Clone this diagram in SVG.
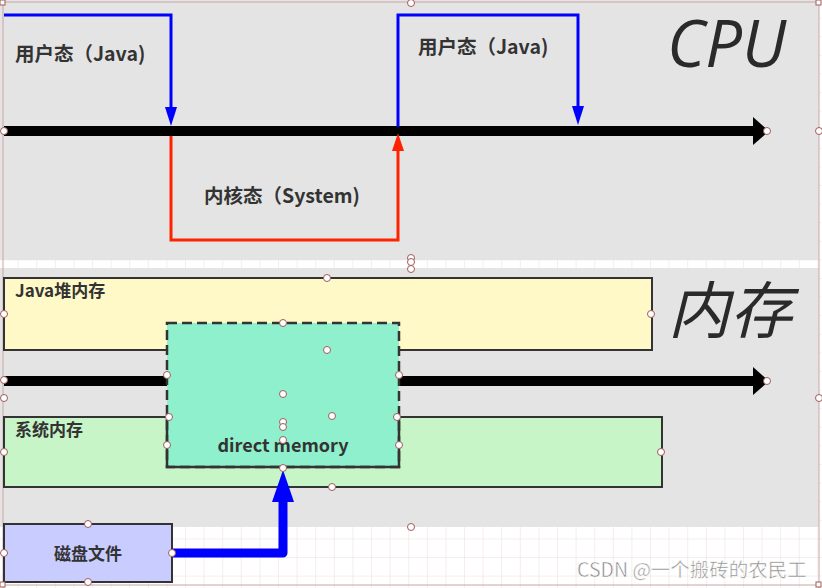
<svg xmlns="http://www.w3.org/2000/svg" width="822" height="588" viewBox="0 0 822 588">
<defs>
<pattern id="grid" x="0" y="0" width="18.6" height="18.6" patternUnits="userSpaceOnUse">
<rect width="18.6" height="18.6" fill="#ffffff"/>
<path d="M18.6 0V18.6M0 18.6H18.6" stroke="#eedcdc" stroke-width="1" fill="none"/>
</pattern>
<marker id="bigArrow" markerUnits="userSpaceOnUse" markerWidth="16" markerHeight="30" refX="0" refY="15" orient="auto">
<path d="M0 1L16 15L0 29Z" fill="#000"/>
</marker>
</defs>
<style>
.lbl{font-family:"Noto Sans CJK SC","Liberation Sans",sans-serif;font-weight:bold;fill:#333;}
.big{font-family:"Open Sans","Noto Sans CJK SC",sans-serif;font-style:italic;fill:#2a2a2a;}
.box{stroke:#333;stroke-width:2;}
.h{fill:#fff;stroke:#a05a5a;stroke-width:1;}
.thin{fill:none;stroke-width:3;stroke-linejoin:miter;}
</style>
<rect x="0" y="0" width="822" height="588" fill="url(#grid)"/>
<rect x="0" y="0" width="819" height="260" fill="#e4e4e4"/>
<rect x="0" y="268" width="819" height="259" fill="#e4e4e4"/>
<path d="M0 2H819M3 0V588M819 0V588M0 585H819" stroke="#caa4a4" stroke-width="1" fill="none"/>
<g id="cpu-title"><text class="big" x="667" y="67" font-size="65">CPU</text></g>
<g id="mem-title"><text class="big" x="668" y="333" font-size="62">内存</text></g>
<g id="java-heap"><rect class="box" x="4" y="278" width="648" height="72" fill="#fff9c8"/><text class="lbl" x="15" y="297" font-size="17">Java堆内存</text></g>
<g id="sys-mem"><rect class="box" x="4" y="417" width="658" height="70" fill="#c8f5c8"/><text class="lbl" x="15" y="436" font-size="17">系统内存</text></g>
<g id="connectors">
<line x1="4" y1="131" x2="753" y2="131" stroke="#000" stroke-width="10" marker-end="url(#bigArrow)"/>
<line x1="4" y1="381" x2="753" y2="381" stroke="#000" stroke-width="10" marker-end="url(#bigArrow)"/>
<path class="thin" d="M4 15H171V108" stroke="#0000ff"/>
<path d="M165 107H177L171 126Z" fill="#0000ff"/>
<path class="thin" d="M171 136V240H398V150" stroke="#ff2200"/>
<path d="M392 151H404L398 133Z" fill="#ff2200"/>
<path class="thin" d="M398 127V15H578V107" stroke="#0000ff"/>
<path d="M572 106H584L578 125Z" fill="#0000ff"/>
<path d="M172 553H283V500" fill="none" stroke="#0000ff" stroke-width="9" stroke-linejoin="round"/>
<path d="M272 502H294L283 470Z" fill="#0000ff"/>
</g>
<g id="user1"><text class="lbl" x="15" y="61" font-size="19.5">用户态（Java)</text></g>
<g id="user2"><text class="lbl" x="418" y="54" font-size="19.5">用户态（Java)</text></g>
<g id="kernel"><text class="lbl" x="204" y="203" font-size="19.5">内核态（System)</text></g>
<g id="direct-memory">
<rect x="167" y="323" width="232" height="144" fill="#8ef0cc" stroke="#333" stroke-width="2.5" stroke-dasharray="10 5"/>
<path d="M167 417V467H399V417" fill="none" stroke="#333" stroke-width="2.5"/>
<text class="lbl" x="283" y="452" font-size="18" text-anchor="middle">direct memory</text>
</g>
<g id="disk"><rect class="box" x="4" y="524" width="168" height="58" fill="#c8ccff"/><text class="lbl" x="88" y="560" font-size="17" text-anchor="middle">磁盘文件</text></g>
<g id="handles">
<circle class="h" cx="411" cy="3" r="3.5"/><circle class="h" cx="4" cy="131" r="3.5"/><circle class="h" cx="767" cy="131" r="3.5"/><circle class="h" cx="819" cy="131" r="3.5"/><circle class="h" cx="411" cy="258" r="3.5"/>
<circle class="h" cx="411" cy="262" r="3.5"/><circle class="h" cx="411" cy="269" r="3.5"/><circle class="h" cx="327" cy="278" r="3.5"/><circle class="h" cx="4" cy="314" r="3.5"/><circle class="h" cx="651" cy="314" r="3.5"/>
<circle class="h" cx="283" cy="323" r="3.5"/><circle class="h" cx="327" cy="350" r="3.5"/><circle class="h" cx="4" cy="380" r="3.5"/><circle class="h" cx="167" cy="375" r="3.5"/><circle class="h" cx="399" cy="375" r="3.5"/>
<circle class="h" cx="767" cy="381" r="3.5"/><circle class="h" cx="4" cy="398" r="3.5"/><circle class="h" cx="819" cy="398" r="3.5"/><circle class="h" cx="283" cy="394" r="3.5"/><circle class="h" cx="169" cy="417" r="3.5"/>
<circle class="h" cx="332" cy="416" r="3.5"/><circle class="h" cx="397" cy="417" r="3.5"/><circle class="h" cx="283" cy="422" r="3.5"/><circle class="h" cx="283" cy="427" r="3.5"/><circle class="h" cx="283" cy="440" r="3.5"/>
<circle class="h" cx="167" cy="445" r="3.5"/><circle class="h" cx="399" cy="445" r="3.5"/><circle class="h" cx="4" cy="452" r="3.5"/><circle class="h" cx="661" cy="452" r="3.5"/><circle class="h" cx="283" cy="468" r="3.5"/>
<circle class="h" cx="332" cy="487" r="3.5"/><circle class="h" cx="411" cy="527" r="3.5"/><circle class="h" cx="88" cy="524" r="3.5"/><circle class="h" cx="4" cy="553" r="3.5"/><circle class="h" cx="172" cy="553" r="3.5"/><circle class="h" cx="88" cy="582" r="3.5"/>
<rect class="h" x="0" y="0" width="5" height="5"/><rect class="h" x="816" y="0" width="5" height="5"/><rect class="h" x="0" y="582" width="5" height="5"/><rect class="h" x="816" y="582" width="5" height="5"/>
</g>
<g id="watermark"><text x="577" y="577" font-size="19.5" font-family="'Noto Sans CJK SC','Liberation Sans',sans-serif" fill="#8a8a8a" stroke="#ffffff" stroke-width="0.5">CSDN @一个搬砖的农民工</text></g>
</svg>
